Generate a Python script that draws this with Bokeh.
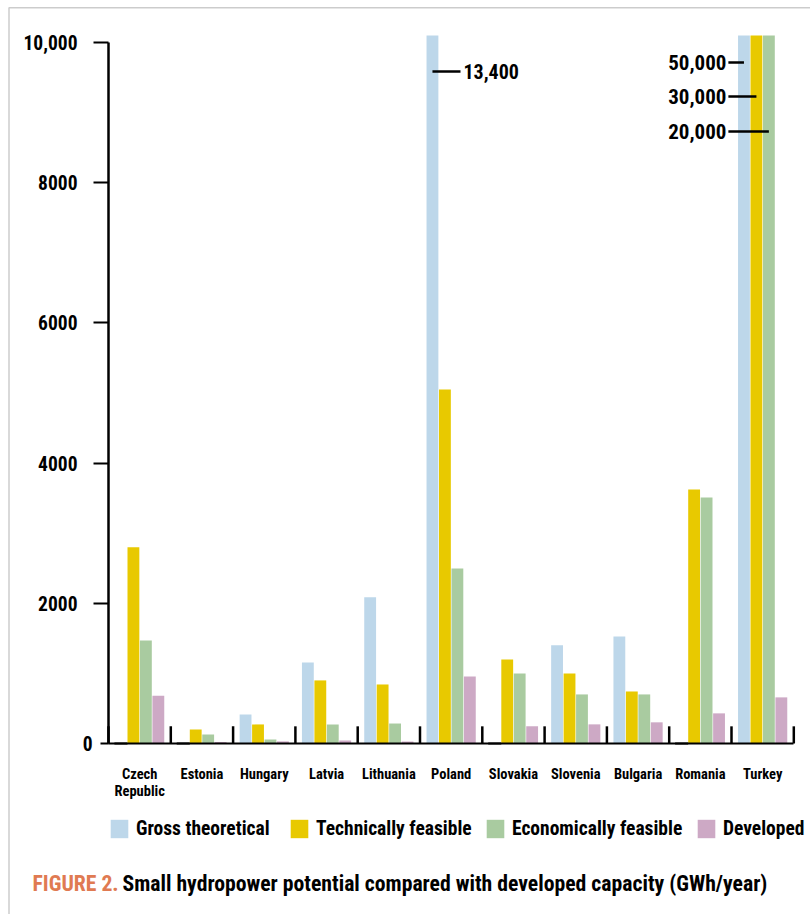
from bokeh.plotting import figure
from bokeh.models import (ColumnDataSource, Range1d, FixedTicker, LinearAxis,
                          Legend, LegendItem, Label, BoxAnnotation)
from bokeh.transform import dodge
from bokeh.core.properties import value
from bokeh.embed import file_html
from bokeh.resources import INLINE

# ---------------- data ----------------
categories = ["Czech Republic", "Estonia", "Hungary", "Latvia", "Lithuania",
              "Poland", "Slovakia", "Slovenia", "Bulgaria", "Romania", "Turkey"]
# tick labels: first and second line
label_line1 = {"Czech Republic": "Czech"}
label_line2 = {"Czech Republic": "Republic"}
series_names = ["Gross theoretical", "Technically feasible",
                "Economically feasible", "Developed"]
gross = [0, 0, 415, 1155, 2085, 13400, 0, 1400, 1525, 0, 50000]
tech = [2800, 200, 272, 900, 842, 5050, 1198, 1000, 742, 3622, 30000]
econ = [1470, 130, 57, 271, 285, 2496, 1000, 700, 700, 3510, 20000]
dev = [680, 20, 30, 43, 28, 956, 246, 273, 302, 430, 658]
y_ticks = [0, 2000, 4000, 6000, 8000, 10000]
y_tick_labels = ["0", "2000", "4000", "6000", "8000", "10,000"]
# call-outs for bars that run off the chart: (country, series index)
callout_country = ["Poland", "Turkey", "Turkey", "Turkey"]
callout_series = [0, 0, 1, 2]
callout_y = [9586, 9715, 9230, 8730]
caption_head = "FIGURE 2."
caption_text = "Small hydropower potential compared with developed capacity (GWh/year)"

# ---------------- style / geometry ----------------
FONT = "'Roboto Condensed', 'Liberation Sans Narrow', sans-serif"
colors = ["#BDD7EA", "#E8C900", "#A9CBA0", "#CDA9C5"]
offsets = [-0.3, -0.1, 0.1, 0.3]
BAR_W = 0.19
BAR_CAP = 10100          # bars above this run off the top of the scale
W, H = 810, 914
PX_X = 62.3              # pixels per country group
PX_Y = 0.0701            # pixels per GWh/year
X0_PX, Y0_PX = 108, 743  # canvas position of the origin

p = figure(x_range=Range1d(-X0_PX / PX_X, (W - X0_PX) / PX_X),
           y_range=Range1d(-(H - Y0_PX) / PX_Y, Y0_PX / PX_Y),
           width=W, height=H, title=None, x_axis_type=None, y_axis_type=None,
           output_backend="svg", toolbar_location=None,
           min_border=0, min_border_left=0, min_border_right=0,
           min_border_top=0, min_border_bottom=0)
p.outline_line_color = None

n = len(categories)
pos = [i + 0.5 for i in range(n)]
series_values = [gross, tech, econ, dev]
src = ColumnDataSource(dict(pos=pos, **{"s%d" % i: [min(v, BAR_CAP) for v in vals]
                                        for i, vals in enumerate(series_values)}))
renderers = []
for i in range(4):
    r = p.vbar(x=dodge("pos", offsets[i]), top="s%d" % i, width=BAR_W, source=src,
               fill_color=colors[i], line_color=None)
    renderers.append(r)
    zeros = [q for q, v in zip(pos, series_values[i]) if v == 0]
    if zeros:
        p.vbar(x=dodge("pos", offsets[i]), top=0, bottom=0, width=BAR_W + 0.02,
               source=ColumnDataSource(dict(pos=zeros)), fill_color=None,
               line_color="black", line_width=2)

# group separator ticks on the baseline
bounds = list(range(n + 1))
p.segment(x0=bounds, y0=[0] * len(bounds), x1=bounds, y1=[245] * len(bounds),
          line_color="black", line_width=2.5)

# call-outs
rows = {"x0": [], "x1": [], "y": [], "tx": [], "label": [], "side": []}
for c, s, yv in zip(callout_country, callout_series, callout_y):
    idx = categories.index(c)
    bar_center = pos[idx] + offsets[s]
    if c == "Turkey":
        start = pos[idx] - 0.55
        rows["x0"].append(start); rows["x1"].append(bar_center)
        rows["tx"].append(start); rows["side"].append("right")
    else:
        end = bar_center + 0.45
        rows["x0"].append(bar_center); rows["x1"].append(end)
        rows["tx"].append(end); rows["side"].append("left")
    rows["y"].append(yv)
    rows["label"].append("{:,}".format(series_values[s][idx]))
p.segment(x0="x0", y0="y", x1="x1", y1="y", source=ColumnDataSource(rows),
          line_color="black", line_width=2.5)
for side, off, size in (("left", 3, "20px"), ("right", -2, "21px")):
    sub = {k: [v for v, sd in zip(rows[k], rows["side"]) if sd == side] for k in rows}
    p.text(x="tx", y="y", text="label", source=ColumnDataSource(sub), x_offset=off,
           text_align=side, text_baseline="middle", text_font=value(FONT),
           text_font_size=size, text_font_style="bold", text_color="black")

# y axis (zero label handled by a short-tick companion axis)
def style_labels(ax, size):
    ax.major_label_text_font = FONT
    ax.major_label_text_font_size = size
    ax.major_label_text_font_style = "bold"
    ax.major_label_text_color = "black"

ya = LinearAxis(fixed_location=0, bounds=(0, 10000),
                ticker=FixedTicker(ticks=y_ticks[1:]),
                major_label_overrides={t: l for t, l in zip(y_ticks[1:], y_tick_labels[1:])},
                axis_line_width=2.5, axis_line_color="black",
                major_tick_out=15, major_tick_in=0, major_tick_line_width=2,
                minor_tick_line_color=None, major_label_standoff=16)
style_labels(ya, "19.5px")
p.add_layout(ya, "left")
ya0 = LinearAxis(fixed_location=0, ticker=FixedTicker(ticks=y_ticks[:1]),
                 major_label_overrides={y_ticks[0]: y_tick_labels[0]},
                 axis_line_color=None, major_tick_out=8, major_tick_in=0,
                 major_tick_line_width=2, minor_tick_line_color=None,
                 major_label_standoff=8)
style_labels(ya0, "19.5px")
p.add_layout(ya0, "left")

# x axis: baseline + first label line, and a second label line
xa = LinearAxis(fixed_location=0, bounds=(0, n), ticker=FixedTicker(ticks=pos),
                major_label_overrides={q: label_line1.get(c, c) for q, c in zip(pos, categories)},
                axis_line_width=2, axis_line_color="black",
                major_tick_line_color=None, major_tick_out=0, major_tick_in=0,
                minor_tick_line_color=None, major_label_standoff=22)
style_labels(xa, "14.5px")
p.add_layout(xa, "below")
xa2 = LinearAxis(fixed_location=0, ticker=FixedTicker(ticks=pos),
                 major_label_overrides={q: label_line2.get(c, "") for q, c in zip(pos, categories)},
                 axis_line_color=None, major_tick_line_color=None, major_tick_out=0,
                 major_tick_in=0, minor_tick_line_color=None, major_label_standoff=39)
style_labels(xa2, "14.5px")
p.add_layout(xa2, "below")

# legend: one entry per legend so each swatch sits where the reference has it
legend_x = [108, 288, 484, 695]
for i, r in enumerate(renderers):
    lg = Legend(items=[LegendItem(label=series_names[i], renderers=[r])],
                location=(legend_x[i], H - 840), orientation="horizontal",
                padding=0, margin=0, spacing=0, glyph_width=22, glyph_height=23,
                label_standoff=6, label_height=23,
                label_text_font=FONT, label_text_font_size="19.5px",
                label_text_font_style="bold", label_text_color="black",
                background_fill_alpha=0, border_line_color=None)
    p.add_layout(lg)

# caption
p.add_layout(Label(x=32, y=H - 883, x_units="screen", y_units="screen",
                   text=caption_head, text_color="#E07A52", text_font=FONT,
                   text_font_size="21.7px", text_font_style="bold",
                   text_baseline="middle"))
p.add_layout(Label(x=122, y=H - 883, x_units="screen", y_units="screen",
                   text=caption_text, text_color="black", text_font=FONT,
                   text_font_size="21.7px", text_font_style="bold",
                   text_baseline="middle"))

# outer frame (only the top and left edges fall inside the page)
p.add_layout(BoxAnnotation(left=8.5, right=3000, top=H - 7.3, bottom=-3000,
                           left_units="screen", right_units="screen",
                           top_units="screen", bottom_units="screen",
                           fill_alpha=0, line_color="#555555", line_width=1.5,
                           level="overlay"))

open("out.html", "w").write(file_html(p, INLINE))
